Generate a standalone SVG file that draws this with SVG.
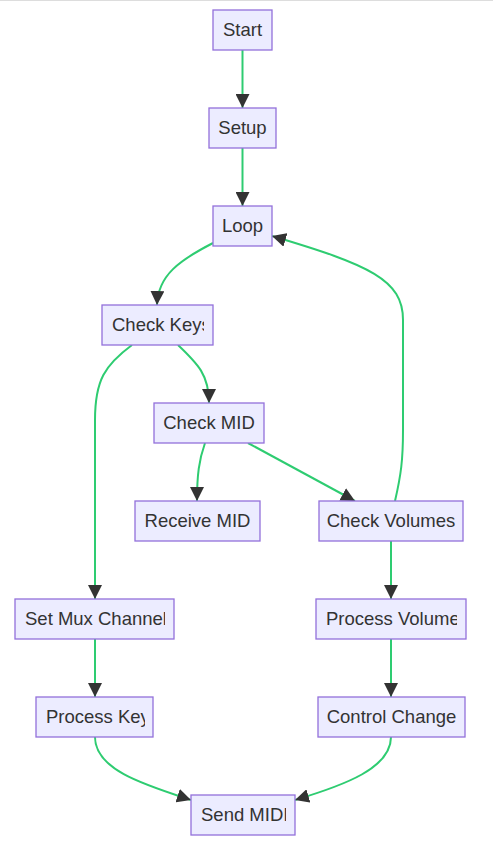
<svg xmlns="http://www.w3.org/2000/svg" width="493" height="859" viewBox="0 0 493 859">
<style>
.node rect{fill:#ECECFF;stroke:#9370DB;stroke-width:1.3px;}
.node text{font-family:"Liberation Sans",Arial,sans-serif;font-size:18.5px;fill:#333;text-anchor:middle;dominant-baseline:central;}
.node text.l{text-anchor:start;}
.edge{fill:none;stroke:#2ECC71;stroke-width:2px;marker-end:url(#arrow);}
</style>
<defs>
<marker id="arrow" viewBox="0 0 10 10" refX="10" refY="5" markerUnits="userSpaceOnUse" markerWidth="14" markerHeight="14" orient="auto">
<path d="M0,0 L10,5 L0,10 z" fill="#333"/>
</marker>
<clipPath id="c-keys"><rect x="102" y="305" width="102" height="40"/></clipPath>
<clipPath id="c-mux"><rect x="15" y="599" width="150" height="40"/></clipPath>
<clipPath id="c-pvol"><rect x="316" y="599" width="141" height="40"/></clipPath>
<clipPath id="c-pkeys"><rect x="36" y="697" width="109" height="40"/></clipPath>
<clipPath id="c-send"><rect x="191" y="795" width="95" height="40"/></clipPath>
</defs>
<rect x="0" y="0" width="493" height="859" fill="#fff"/>
<line x1="0" y1="0.5" x2="493" y2="0.5" stroke="#ddd" stroke-width="1"/>
<g id="connectors">
<path class="edge" d="M242.5,50 L242.5,108"/>
<path class="edge" d="M242.5,148 L242.5,206"/>
<path class="edge" d="M213,243 C180,260 158,275 157,305"/>
<path class="edge" d="M178,345 C198,364 209,375 209,403"/>
<path class="edge" d="M132,345 C105,365 95,380 95,420 L95,599"/>
<path class="edge" d="M205,443 C199,460 197,475 197,501"/>
<path class="edge" d="M248,443 L355,501"/>
<path class="edge" d="M395,501 C401,475 403,460 403,430 L403,320 C403,280 370,265 272,236"/>
<path class="edge" d="M391,541 L391,599"/>
<path class="edge" d="M391,639 L391,697"/>
<path class="edge" d="M95,639 L95,697"/>
<path class="edge" d="M95,737 C95,770 145,785 191,800"/>
<path class="edge" d="M391,737 C391,768 345,785 295,800"/>
</g>
<g id="start" class="node"><rect x="213" y="10" width="59" height="40"/><text x="242.5" y="29">Start</text></g>
<g id="setup" class="node"><rect x="209" y="108" width="67" height="40"/><text x="242.5" y="127">Setup</text></g>
<g id="loop" class="node"><rect x="213" y="206" width="59" height="40"/><text x="242.5" y="225">Loop</text></g>
<g id="checkKeys" class="node"><rect x="102" y="305" width="111" height="40"/><text class="l" x="112" y="324" clip-path="url(#c-keys)">Check Keys</text></g>
<g id="checkMID" class="node"><rect x="154" y="403" width="110" height="40"/><text x="209" y="422">Check MID</text></g>
<g id="receiveMID" class="node"><rect x="135" y="501" width="125" height="40"/><text x="197.5" y="520">Receive MID</text></g>
<g id="checkVolumes" class="node"><rect x="319" y="501" width="144" height="40"/><text x="391" y="520">Check Volumes</text></g>
<g id="setMux" class="node"><rect x="15" y="599" width="159" height="40"/><text class="l" x="25" y="618" clip-path="url(#c-mux)">Set Mux Channel</text></g>
<g id="processVolumes" class="node"><rect x="316" y="599" width="150" height="40"/><text class="l" x="326" y="618" clip-path="url(#c-pvol)">Process Volumes</text></g>
<g id="processKeys" class="node"><rect x="36" y="697" width="117" height="40"/><text class="l" x="46" y="716" clip-path="url(#c-pkeys)">Process Keys</text></g>
<g id="controlChange" class="node"><rect x="318" y="697" width="147" height="40"/><text x="391.5" y="716">Control Change</text></g>
<g id="sendMIDI" class="node"><rect x="191" y="795" width="104" height="40"/><text class="l" x="201" y="814" clip-path="url(#c-send)">Send MIDI</text></g>
</svg>
